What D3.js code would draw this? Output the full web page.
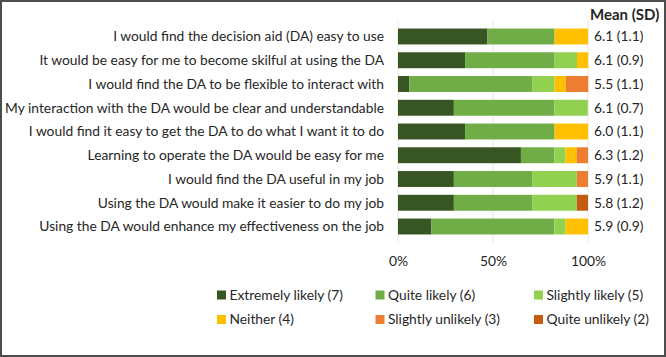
<!DOCTYPE html>
<html>
<head>
<meta charset="utf-8">
<script src="https://cdn.jsdelivr.net/npm/d3@7"></script>
<style>
  body { margin: 0; background: #fff; }
  text { font-family: Lato, "Open Sans", sans-serif; fill: #262626; }
</style>
</head>
<body>
<div class="chart"></div>
<script>
//Width and height
var w = 666;
var h = 357;

//Survey items, top to bottom
var items = [
  "I would find the decision aid (DA) easy to use",
  "It would be easy for me to become skilful at using the DA",
  "I would find the DA to be flexible to interact with",
  "My interaction with the DA would be clear and understandable",
  "I would find it easy to get the DA to do what I want it to do",
  "Learning to operate the DA would be easy for me",
  "I would find the DA useful in my job",
  "Using the DA would make it easier to do my job",
  "Using the DA would enhance my effectiveness on the job"
];

//Response categories
var categories = ["Extremely likely (7)", "Quite likely (6)", "Slightly likely (5)",
                  "Neither (4)", "Slightly unlikely (3)", "Quite unlikely (2)"];

//Percent of responses per category (one list per category, same order as items)
var extremely  = [47.1, 35.3,  5.9, 29.4, 35.3, 64.7, 29.4, 29.4, 17.6];
var quite      = [35.3, 47.1, 64.7, 52.9, 47.1, 17.6, 41.2, 41.2, 64.7];
var slightly   = [ 0.0, 11.8, 11.8, 17.6,  0.0,  5.9, 23.5, 23.5,  5.9];
var neither    = [17.6,  5.9,  5.9,  0.0, 17.6,  5.9,  0.0,  0.0, 11.8];
var slUnlikely = [ 0.0,  0.0, 11.8,  0.0,  0.0,  5.9,  5.9,  0.0,  0.0];
var qUnlikely  = [ 0.0,  0.0,  0.0,  0.0,  0.0,  0.0,  0.0,  5.9,  0.0];

//Mean (SD) column
var meanSD = ["6.1 (1.1)", "6.1 (0.9)", "5.5 (1.1)", "6.1 (0.7)", "6.0 (1.1)",
              "6.3 (1.2)", "5.9 (1.1)", "5.8 (1.2)", "5.9 (0.9)"];

//Axis ticks
var ticks = [0, 50, 100];

var colors = ["#375623", "#70AD47", "#92D050", "#FFC000", "#ED7D31", "#C55A11"];

//Build table for the stack
var series = [extremely, quite, slightly, neither, slUnlikely, qUnlikely];
var table = items.map(function(item, i) {
  var row = { item: item };
  categories.forEach(function(c, k) { row[c] = series[k][i]; });
  return row;
});

var stack = d3.stack().keys(categories);
var stacked = stack(table);

//Scales
var x = d3.scaleLinear().domain([0, 100]).range([398, 588]);
var y = d3.scaleBand().domain(items).range([20.7, 242.3]).padding(0.33);
var color = d3.scaleOrdinal().domain(categories).range(colors);

//Create SVG element
var svg = d3.select(".chart")
            .append("svg")
            .attr("width", w)
            .attr("height", h);

//Frame
svg.append("rect")
   .attr("x", 1).attr("y", 1)
   .attr("width", w - 2).attr("height", h - 2)
   .style("fill", "white")
   .style("stroke", "#4d4d4d")
   .style("stroke-width", 2);

//Gridlines
svg.selectAll("line.grid")
   .data(ticks)
   .enter()
   .append("line")
   .attr("class", "grid")
   .attr("x1", function(d) { return x(d); })
   .attr("x2", function(d) { return x(d); })
   .attr("y1", 20.7)
   .attr("y2", 242.3)
   .style("stroke", "#e6e6e6")
   .style("stroke-width", 1);

//Bars
svg.selectAll("g.layer")
   .data(stacked)
   .enter()
   .append("g")
   .attr("class", "layer")
   .style("fill", function(d) { return color(d.key); })
   .selectAll("rect")
   .data(function(d) { return d; })
   .enter()
   .append("rect")
   .attr("x", function(d) { return x(d[0]); })
   .attr("y", function(d) { return y(d.data.item); })
   .attr("width", function(d) { return x(d[1]) - x(d[0]); })
   .attr("height", y.bandwidth());

//Item labels
svg.selectAll("text.item")
   .data(items)
   .enter()
   .append("text")
   .attr("class", "item")
   .attr("x", 384)
   .attr("y", function(d) { return y(d) + y.bandwidth() / 2; })
   .attr("dy", "0.35em")
   .attr("text-anchor", "end")
   .style("font-size", "13.8px")
   .text(function(d) { return d; });

//Mean (SD) header and values
svg.append("text")
   .attr("x", 590)
   .attr("y", 15)
   .attr("dy", "0.35em")
   .style("font-size", "15px")
   .style("font-weight", "bold")
   .text("Mean (SD)");

svg.selectAll("text.mean")
   .data(meanSD)
   .enter()
   .append("text")
   .attr("class", "mean")
   .attr("x", 594)
   .attr("y", function(d, i) { return y(items[i]) + y.bandwidth() / 2; })
   .attr("dy", "0.35em")
   .style("font-size", "13.8px")
   .text(function(d) { return d; });

//X axis
var xAxis = d3.axisBottom(x)
              .tickValues(ticks)
              .tickSize(0)
              .tickPadding(0)
              .tickFormat(function(d) { return d + "%"; });

var gx = svg.append("g")
            .attr("transform", "translate(0,256)")
            .call(xAxis);
gx.select(".domain").remove();
gx.selectAll("text")
  .style("font-family", "Lato, sans-serif")
  .style("font-size", "13.8px")
  .style("fill", "#262626");

//Legend
var legend = svg.selectAll("g.legend")
                .data(categories)
                .enter()
                .append("g")
                .attr("class", "legend")
                .attr("transform", function(d, i) {
                  return "translate(" + (217 + (i % 3) * 158.5) + "," + (295 + Math.floor(i / 3) * 24.5) + ")";
                });

legend.append("rect")
      .attr("x", 0)
      .attr("y", -4.5)
      .attr("width", 9)
      .attr("height", 9)
      .style("fill", function(d) { return color(d); });

legend.append("text")
      .attr("x", 12.5)
      .attr("y", 0)
      .attr("dy", "0.35em")
      .style("font-size", "13.8px")
      .text(function(d) { return d; });
</script>
</body>
</html>
